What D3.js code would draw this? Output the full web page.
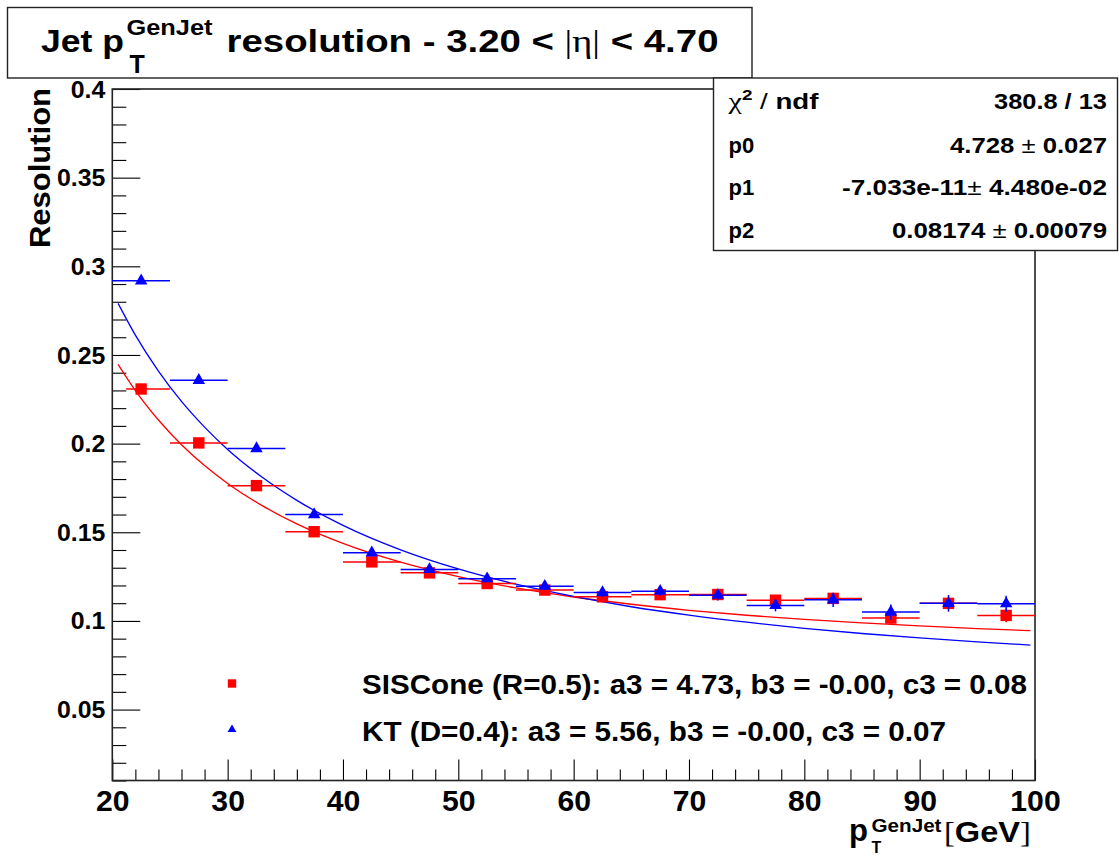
<!DOCTYPE html>
<html>
<head>
<meta charset="utf-8">
<script src="https://cdn.jsdelivr.net/npm/d3@7"></script>
<style>
    body { margin: 0; background: #fff; }
    svg { display: block; font-family: "Liberation Sans", Arial, Helvetica, sans-serif; font-weight: bold; }
    .frame { fill: none; stroke: #222; stroke-width: 1.6; }
    .pave { fill: #fff; stroke: #222; stroke-width: 1.4; }
    .axis path { display: none; }
    .axis line { stroke: #000; stroke-width: 1.1; }
    .axis text { fill: #000; font-family: "Liberation Sans", Arial, sans-serif; font-weight: bold; }
    .sym { font-family: "Liberation Serif", "DejaVu Serif", serif; font-weight: normal; }
    .thin { font-weight: normal; }
    .fit { fill: none; stroke-width: 1.3; }
    .err { stroke-width: 1.5; }
</style>
</head>
<body>
<svg id="chart" width="1119" height="856"></svg>
<script>
// ---- data ----
const binCenters   = [22.5, 27.5, 32.5, 37.5, 42.5, 47.5, 52.5, 57.5, 62.5, 67.5, 72.5, 77.5, 82.5, 87.5, 92.5, 97.5];
const binHalfWidth = [2.5, 2.5, 2.5, 2.5, 2.5, 2.5, 2.5, 2.5, 2.5, 2.5, 2.5, 2.5, 2.5, 2.5, 2.5, 2.5];
const sisconeXErrLow = [1.3, 2.5, 2.5, 2.5, 2.5, 2.5, 2.5, 2.5, 2.5, 2.5, 2.5, 2.5, 2.5, 2.5, 2.5, 2.5];

const sisconeRes = [0.2308, 0.2004, 0.1763, 0.1503, 0.1333, 0.1271, 0.1211, 0.1174, 0.1136, 0.1148, 0.1149, 0.1117, 0.1127, 0.1016, 0.1099, 0.1031];
const sisconeErr = [0.0008, 0.0008, 0.0009, 0.0010, 0.0011, 0.0012, 0.0013, 0.0015, 0.0017, 0.0020, 0.0022, 0.0025, 0.0028, 0.0032, 0.0035, 0.0038];
const ktRes      = [0.2918, 0.2357, 0.1972, 0.1600, 0.1384, 0.1290, 0.1238, 0.1196, 0.1160, 0.1168, 0.1145, 0.1087, 0.1119, 0.1050, 0.1099, 0.1097];
const ktErr      = [0.0010, 0.0010, 0.0011, 0.0012, 0.0013, 0.0015, 0.0017, 0.0020, 0.0023, 0.0026, 0.0030, 0.0033, 0.0040, 0.0043, 0.0047, 0.0045];

// fitted curves
const fitPt      = [20.5, 22, 24, 26, 28, 30, 33, 36, 40, 45, 50, 55, 60, 65, 70, 75, 80, 85, 90, 95, 99.6];
const sisconeFit = [0.2447, 0.2299, 0.2133, 0.1994, 0.1876, 0.1775, 0.1650, 0.1547, 0.1437, 0.1331, 0.1250, 0.1186, 0.1135, 0.1094, 0.1060, 0.1032, 0.1009, 0.0989, 0.0972, 0.0957, 0.0945];
const ktFit      = [0.2791, 0.2612, 0.2409, 0.2238, 0.2093, 0.1967, 0.1810, 0.1680, 0.1539, 0.1401, 0.1293, 0.1207, 0.1138, 0.1080, 0.1033, 0.0993, 0.0958, 0.0929, 0.0904, 0.0882, 0.0864];

const xTickValues = [20, 30, 40, 50, 60, 70, 80, 90, 100];
const xTickLabels = ["20", "30", "40", "50", "60", "70", "80", "90", "100"];
const yTickValues = [0.05, 0.1, 0.15, 0.2, 0.25, 0.3, 0.35, 0.4];
const yTickLabels = ["0.05", "0.1", "0.15", "0.2", "0.25", "0.3", "0.35", "0.4"];

const statNames  = ["χ2 / ndf", "p0", "p1", "p2"];
const statValues = ["380.8 / 13", "4.728 ± 0.027", "-7.033e-11± 4.480e-02", "0.08174 ± 0.00079"];

const legendLabels = ["SISCone (R=0.5): a3 = 4.73, b3 = -0.00, c3 = 0.08",
                      "KT (D=0.4): a3 = 5.56, b3 = -0.00, c3 = 0.07"];

const RED = "#ff0000", BLUE = "#0000ff";

// ---- chart ----
const svg = d3.select("#chart");
const x = d3.scaleLinear().domain([20, 100]).range([112.3, 1035]);
const y = d3.scaleLinear().domain([0.01, 0.4]).range([780.5, 89]);

// stretch text horizontally to a given width
function stretch(sel, factor) {
    sel.each(function() {
        let w = this.getComputedTextLength();
        d3.select(this).attr("textLength", w * factor).attr("lengthAdjust", "spacingAndGlyphs");
    });
}
function fitTo(sel, width) {
    sel.attr("textLength", width).attr("lengthAdjust", "spacingAndGlyphs");
}

// axes
let xMinor = d3.range(20, 101, 2).filter(d => d % 10 !== 0);
let yMinor = d3.range(1, 41).map(d => d / 100).filter(d => Math.round(d * 100) % 5 !== 0);

let gx = svg.append("g").attr("class", "axis")
    .attr("transform", "translate(0," + y.range()[0] + ")")
    .call(d3.axisBottom(x).tickValues(xTickValues).tickSize(-21).tickPadding(10)
        .tickFormat((d, i) => xTickLabels[i]));
gx.selectAll("text").attr("font-size", 29).attr("dy", null).attr("y", 30).call(stretch, 1.04);
svg.append("g").attr("class", "axis")
    .attr("transform", "translate(0," + y.range()[0] + ")")
    .call(d3.axisBottom(x).tickValues(xMinor).tickSize(-11).tickFormat(""));

let gy = svg.append("g").attr("class", "axis")
    .attr("transform", "translate(" + x.range()[0] + ",0)")
    .call(d3.axisLeft(y).tickValues(yTickValues).tickSize(-28).tickPadding(7)
        .tickFormat((d, i) => yTickLabels[i]));
gy.selectAll("text").attr("font-size", 23).attr("dy", "0.35em").call(stretch, 1.08);
svg.append("g").attr("class", "axis")
    .attr("transform", "translate(" + x.range()[0] + ",0)")
    .call(d3.axisLeft(y).tickValues(yMinor).tickSize(-14).tickFormat(""));

// frame
svg.append("rect").attr("class", "frame")
    .attr("x", x.range()[0]).attr("y", y.range()[1])
    .attr("width", x.range()[1] - x.range()[0])
    .attr("height", y.range()[0] - y.range()[1]);

// fit curves
let line = d3.line().x(d => x(d[0])).y(d => y(d[1])).curve(d3.curveMonotoneX);
svg.append("path").attr("class", "fit").attr("stroke", RED)
    .attr("d", line(d3.zip(fitPt, sisconeFit)));
svg.append("path").attr("class", "fit").attr("stroke", BLUE)
    .attr("d", line(d3.zip(fitPt, ktFit)));

// data points with error bars
function drawSeries(vals, errs, xLow, color, symbolType, size) {
    let pts = binCenters.map((c, i) => ({x: c, y: vals[i], e: errs[i], lo: xLow[i], hi: binHalfWidth[i]}));
    let g = svg.append("g");
    g.selectAll(".hbar").data(pts).enter().append("line").attr("class", "err")
        .attr("stroke", color)
        .attr("x1", d => x(d.x - d.lo)).attr("x2", d => x(d.x + d.hi))
        .attr("y1", d => y(d.y)).attr("y2", d => y(d.y));
    g.selectAll(".vbar").data(pts).enter().append("line").attr("class", "err")
        .attr("stroke", color)
        .attr("x1", d => x(d.x)).attr("x2", d => x(d.x))
        .attr("y1", d => y(d.y - d.e)).attr("y2", d => y(d.y + d.e));
    g.selectAll(".mk").data(pts).enter().append("path")
        .attr("fill", color)
        .attr("transform", d => "translate(" + x(d.x) + "," + y(d.y) + ")")
        .attr("d", d3.symbol().type(symbolType).size(size));
}
drawSeries(sisconeRes, sisconeErr, sisconeXErrLow, RED, d3.symbolSquare, 130);
drawSeries(ktRes, ktErr, binHalfWidth, BLUE, d3.symbolTriangle, 68);

// legend
let legend = svg.append("g");
legend.append("path").attr("fill", RED).attr("transform", "translate(232,683.5)")
    .attr("d", d3.symbol().type(d3.symbolSquare).size(70));
legend.append("path").attr("fill", BLUE).attr("transform", "translate(232,729.5)")
    .attr("d", d3.symbol().type(d3.symbolTriangle).size(34));
legend.append("text").attr("x", 362).attr("y", 694).attr("font-size", 28)
    .text(legendLabels[0]).call(fitTo, 665);
legend.append("text").attr("x", 362).attr("y", 740.5).attr("font-size", 28)
    .text(legendLabels[1]).call(fitTo, 584);

// axis titles
let xt = svg.append("g");
xt.append("text").attr("x", 849).attr("y", 841).attr("font-size", 31).text("p");
xt.append("text").attr("x", 871.5).attr("y", 832).attr("font-size", 18).text("GenJet").call(fitTo, 70);
xt.append("text").attr("x", 871.5).attr("y", 853).attr("font-size", 16).text("T");
let gev = xt.append("text").attr("x", 944).attr("y", 842).attr("font-size", 30);
gev.append("tspan").attr("class", "sym").text("[");
gev.append("tspan").text("GeV");
gev.append("tspan").attr("class", "sym").text("]");
gev.call(fitTo, 87);

svg.append("text").attr("transform", "translate(50,88) rotate(-90)")
    .attr("text-anchor", "end").attr("font-size", 30)
    .text("Resolution").call(fitTo, 160);

// title pave
svg.append("rect").attr("class", "pave").attr("x", 7.5).attr("y", 7.5).attr("width", 744.5).attr("height", 70.5);
svg.append("text").attr("x", 41).attr("y", 52).attr("font-size", 32).text("Jet p").call(fitTo, 83);
svg.append("text").attr("x", 126.5).attr("y", 35).attr("font-size", 22).text("GenJet").call(fitTo, 86);
svg.append("text").attr("x", 129.5).attr("y", 73).attr("font-size", 25).text("T");
let tt = svg.append("text").attr("x", 226.5).attr("y", 52).attr("font-size", 32);
tt.append("tspan").text("resolution - 3.20 < ");
tt.append("tspan").attr("class", "sym").text("|η|");
tt.append("tspan").text(" < 4.70");
tt.call(fitTo, 492);

// stats pave
svg.append("rect").attr("class", "pave").attr("x", 713.5).attr("y", 78).attr("width", 404).attr("height", 172.5);
let rowBase = [109.3, 152.5, 195.2, 238.3];
statNames.forEach((name, i) => {
    let t = svg.append("text").attr("x", 728.5).attr("y", rowBase[i]).attr("font-size", 22);
    if (i === 0) {
        t.append("tspan").attr("class", "sym").attr("font-size", 24).text("χ");
        t.append("tspan").attr("font-size", 15).attr("dy", -9).text("2");
        t.append("tspan").attr("class", "thin").attr("dy", 9).text(" / ");
        t.append("tspan").text("ndf");
        t.call(fitTo, 90);
    } else {
        t.text(name);
    }
});
let statWidth = [113, 157, 265, 215];
statValues.forEach((val, i) => {
    let t = svg.append("text").attr("x", 1107).attr("y", rowBase[i]).attr("font-size", 22)
        .attr("text-anchor", "end");
    val.split("±").forEach((part, j) => {
        if (j > 0) t.append("tspan").attr("class", "thin").text("±");
        t.append("tspan").text(part);
    });
    t.call(fitTo, statWidth[i]);
});
</script>
</body>
</html>
